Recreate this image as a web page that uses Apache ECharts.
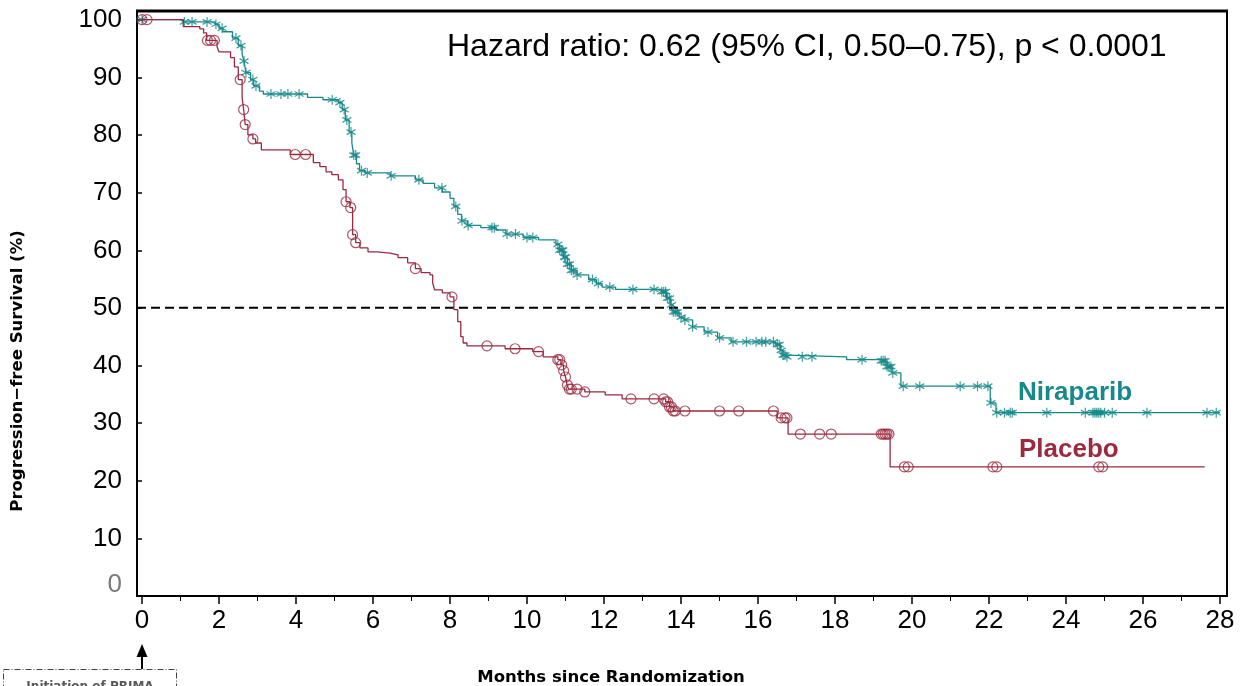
<!DOCTYPE html>
<html>
<head>
<meta charset="utf-8">
<script src="https://cdn.jsdelivr.net/npm/echarts@6/dist/echarts.min.js"></script>
<style>
  html, body { margin: 0; padding: 0; background: #fff; }
  #chart { width: 1241px; height: 686px; }
</style>
</head>
<body>
<div id="chart"></div>
<script>
// Kaplan-Meier steps: [month, survival %] - survival becomes value at that month
const niraparibSteps = [
    [0, 100], [1.07, 99.6], [1.9, 99.2], [2.0, 98.5], [2.1, 97.9], [2.35, 96.8], [2.5, 95.5],
    [2.6, 94.0], [2.65, 92.8], [2.7, 90.8], [2.82, 89.6], [2.9, 88.5], [3.05, 87.6], [3.15, 87.1],
    [4.3, 86.5], [4.7, 86.1], [5.1, 85.6], [5.2, 84.4], [5.28, 82.6], [5.38, 80.5], [5.45, 78.6],
    [5.5, 76.5], [5.57, 75.0], [5.65, 73.8], [5.8, 73.4], [6.45, 72.9], [7.1, 72.2], [7.3, 71.6],
    [7.6, 70.8], [7.8, 70.1], [8.0, 69.0], [8.1, 67.6], [8.2, 66.2], [8.3, 65.1], [8.45, 64.3],
    [8.8, 63.9], [9.2, 63.5], [9.45, 62.8], [9.9, 62.2], [10.3, 61.8], [10.75, 61.0], [10.85, 60.0],
    [10.95, 58.8], [11.05, 57.6], [11.15, 56.5], [11.3, 55.7], [11.6, 54.9], [11.8, 54.2],
    [11.95, 53.6], [12.3, 53.2], [13.5, 52.8], [13.62, 51.7], [13.72, 50.5], [13.8, 49.3],
    [13.95, 48.4], [14.08, 47.9], [14.3, 46.7], [14.6, 45.8], [14.95, 44.8], [15.3, 44.1],
    [16.45, 43.6], [16.58, 42.6], [16.65, 41.8], [16.75, 41.5], [18.3, 41.0], [19.17, 40.8],
    [19.35, 39.8], [19.48, 38.7], [19.71, 36.4], [22.03, 33.5], [22.18, 31.8], [28.0, 31.8]
];
const placeboSteps = [
    [0, 100], [1.07, 98.8], [1.5, 98.4], [1.6, 97.7], [1.68, 96.4], [1.95, 95.3], [2.0, 94.4],
    [2.3, 93.4], [2.4, 91.8], [2.5, 89.6], [2.6, 86.5], [2.64, 84.4], [2.68, 81.8], [2.75, 80.0],
    [2.88, 79.3], [2.95, 78.6], [3.1, 77.4], [3.85, 76.6], [4.45, 75.2], [4.62, 74.5], [4.78, 73.6],
    [4.93, 73.1], [5.1, 72.2], [5.22, 70.5], [5.3, 68.4], [5.4, 67.4], [5.47, 62.7], [5.55, 61.3],
    [5.66, 60.4], [5.87, 59.7], [6.1, 59.5], [6.44, 59.2], [6.65, 58.7], [6.9, 57.8], [7.1, 56.8],
    [7.25, 56.1], [7.48, 55.7], [7.55, 54.3], [7.6, 53.1], [7.8, 52.6], [8.0, 51.9], [8.1, 49.7],
    [8.2, 47.6], [8.28, 45.0], [8.34, 43.9], [8.44, 43.4], [9.43, 42.9], [10.15, 42.4],
    [10.42, 41.5], [10.8, 41.0], [10.88, 40.1], [10.95, 39.1], [11.0, 38.0], [11.04, 36.6],
    [11.08, 35.9], [11.5, 35.4], [12.03, 34.9], [12.47, 34.2], [13.6, 33.7], [13.7, 32.8],
    [13.8, 32.1], [16.5, 30.9], [16.78, 28.1], [19.43, 22.4], [27.6, 22.4]
];

// censored patients (months)
const niraparibCensor = [
    0, 1.1, 1.3, 1.69, 1.92, 2.08, 2.44, 2.57, 2.65, 2.7, 2.88, 2.96, 3.35, 3.61, 3.79, 4.08,
    4.94, 5.14, 5.25, 5.32, 5.43, 5.5, 5.55, 5.7, 5.85, 6.47, 7.19, 7.79, 8.15, 8.31, 8.47, 9.09,
    9.15, 9.48, 9.7, 10.0, 10.15, 10.8, 10.85, 10.9, 10.93, 10.97, 11.0, 11.05, 11.1, 11.15,
    11.2, 11.3, 11.7, 11.85, 12.15, 12.75, 13.3, 13.5, 13.55, 13.6, 13.65, 13.7, 13.75, 13.8,
    13.85, 13.9, 14.0, 14.1, 14.3, 14.7, 15.0, 15.35, 15.7, 15.95, 16.1, 16.2, 16.4, 16.5,
    16.55, 16.6, 16.65, 16.7, 16.75, 17.15, 17.4, 18.7, 19.2, 19.25, 19.3, 19.35, 19.4, 19.45,
    19.5, 19.77, 20.2, 21.25, 21.7, 21.97, 22.05, 22.2, 22.4, 22.55, 22.6, 23.5, 24.5, 24.7,
    24.75, 24.8, 24.85, 24.9, 25.0, 25.2, 26.1, 27.66, 27.9
];
const placeboCensor = [
    0, 0.13, 1.7, 1.78, 1.88, 2.55, 2.64, 2.68, 2.88, 3.98, 4.25, 5.3, 5.42, 5.47, 5.55, 7.1,
    8.05, 8.96, 9.69, 10.3, 10.8, 10.85, 10.9, 10.95, 11.0, 11.05, 11.1, 11.15, 11.3, 11.5,
    12.7, 13.3, 13.55, 13.6, 13.65, 13.7, 13.75, 13.8, 13.85, 14.1, 15.0, 15.5, 16.4, 16.6,
    16.7, 16.75, 17.1, 17.6, 17.9, 19.2, 19.25, 19.3, 19.35, 19.4, 19.8, 19.9, 22.1, 22.2,
    24.85, 24.95
];

const xTicks = [0, 28];
const yTicks = [0, 100];
const medianLine = 50;

const teal = "#17898a";
const crimson = "#9b2a40";

// survival value on the step curve at time t
function survAt(steps, t) {
    let v = steps[0][1];
    for (let i = 0; i < steps.length; i++) {
        if (steps[i][0] <= t) v = steps[i][1];
        else break;
    }
    return v;
}

const starPath = "path://M0,-10L0,10M-8.66,-5L8.66,5M-8.66,5L8.66,-5";

const chart = echarts.init(document.getElementById("chart"));

const option = {
    animation: false,
    grid: [
        { left: 137, right: 14, top: 11, bottom: 90, show: true, borderColor: "#000", borderWidth: 2 },
        { left: 142, right: 21, top: 20, bottom: 90 }
    ],
    xAxis: [
        { gridIndex: 0, type: "value", min: -0.13, max: 28.18, show: false },
        {
            gridIndex: 1, type: "value", min: xTicks[0], max: xTicks[1], interval: 2,
            axisLine: { show: false },
            axisTick: { show: true, length: 8, lineStyle: { color: "#000", width: 1.5 } },
            minorTick: { show: true, splitNumber: 2, length: 5, lineStyle: { color: "#000", width: 1 } },
            splitLine: { show: false },
            axisLabel: { fontFamily: "Liberation Sans, Arial", fontSize: 26, color: "#000", margin: 12 }
        }
    ],
    yAxis: [
        { gridIndex: 0, type: "value", min: 0, max: 101.5, show: false },
        {
            gridIndex: 1, type: "value", min: yTicks[0], max: yTicks[1], interval: 10, offset: 5,
            axisLine: { show: false },
            axisTick: { show: true, length: 6, lineStyle: { color: "#000", width: 1.5 } },
            splitLine: { show: false },
            axisLabel: {
                fontFamily: "Liberation Sans, Arial", fontSize: 26, color: "#000", margin: 15,
                formatter: v => v === 0 ? "{g|0}" : String(v),
                rich: { g: { color: "#7a7a7a", fontSize: 26, fontFamily: "Liberation Sans, Arial", padding: [0, 0, 22, 0] } }
            }
        }
    ],
    series: [
        {
            type: "line", xAxisIndex: 0, yAxisIndex: 0, silent: true,
            data: [[-0.13, medianLine], [28.18, medianLine]],
            showSymbol: false, symbol: "none",
            lineStyle: { color: "#000", width: 2, type: [9, 5] }
        },
        {
            name: "Niraparib", type: "line", xAxisIndex: 0, yAxisIndex: 0, step: "end",
            data: niraparibSteps, showSymbol: false, symbol: "none",
            lineStyle: { color: teal, width: 1.3 }
        },
        {
            type: "scatter", xAxisIndex: 0, yAxisIndex: 0,
            data: niraparibCensor.map(t => [t, survAt(niraparibSteps, t)]),
            symbol: starPath, symbolSize: [9, 10],
            itemStyle: { color: "none", borderColor: teal, borderWidth: 1.3 }
        },
        {
            name: "Placebo", type: "line", xAxisIndex: 0, yAxisIndex: 0, step: "end",
            data: placeboSteps, showSymbol: false, symbol: "none",
            lineStyle: { color: crimson, width: 1.3 }
        },
        {
            type: "scatter", xAxisIndex: 0, yAxisIndex: 0,
            data: placeboCensor.map(t => [t, survAt(placeboSteps, t)]),
            symbol: "circle", symbolSize: 10,
            itemStyle: { color: "rgba(255,255,255,0)", borderColor: crimson, borderWidth: 1.2 }
        }
    ],
    graphic: [
        { type: "line", shape: { x1: 136, y1: 11, x2: 1228, y2: 11 }, style: { stroke: "#000", lineWidth: 3 } },
        {
            type: "text", x: 447, y: 47,
            style: {
                text: "Hazard ratio: 0.62 (95% CI, 0.50–0.75), p < 0.0001",
                font: "32px Liberation Sans, Arial", fill: "#000", textVerticalAlign: "middle"
            }
        },
        {
            type: "text", x: 1018, y: 393,
            style: { text: "Niraparib", font: "bold 26px Liberation Sans, Arial", fill: teal, textVerticalAlign: "middle" }
        },
        {
            type: "text", x: 1019, y: 450,
            style: { text: "Placebo", font: "bold 26px Liberation Sans, Arial", fill: crimson, textVerticalAlign: "middle" }
        },
        {
            type: "text", x: 18, y: 371, rotation: Math.PI / 2,
            style: {
                text: "Progression\u2212free Survival (%)", font: "bold 16.5px DejaVu Sans",
                fill: "#000", textAlign: "center", textVerticalAlign: "middle"
            }
        },
        {
            type: "text", x: 611, y: 678,
            style: {
                text: "Months since Randomization", font: "bold 16.5px DejaVu Sans",
                fill: "#000", textAlign: "center", textVerticalAlign: "middle"
            }
        },
        // annotation box under 0
        {
            type: "rect", shape: { x: 3.5, y: 669.5, width: 173, height: 30 },
            style: { fill: "none", stroke: "#444", lineWidth: 1, lineDash: [6, 2, 1, 2] }
        },
        {
            type: "text", x: 90, y: 681,
            style: { text: "Initiation of PRIMA", font: "bold 12px DejaVu Sans", fill: "#5a5a5a", textAlign: "center", textVerticalAlign: "top" }
        },
        { type: "line", shape: { x1: 142, y1: 669, x2: 142, y2: 655 }, style: { stroke: "#000", lineWidth: 2 } },
        { type: "polygon", shape: { points: [[142, 644], [136.5, 657], [147.5, 657]] }, style: { fill: "#000" } }
    ]
};

chart.setOption(option);
</script>
</body>
</html>
